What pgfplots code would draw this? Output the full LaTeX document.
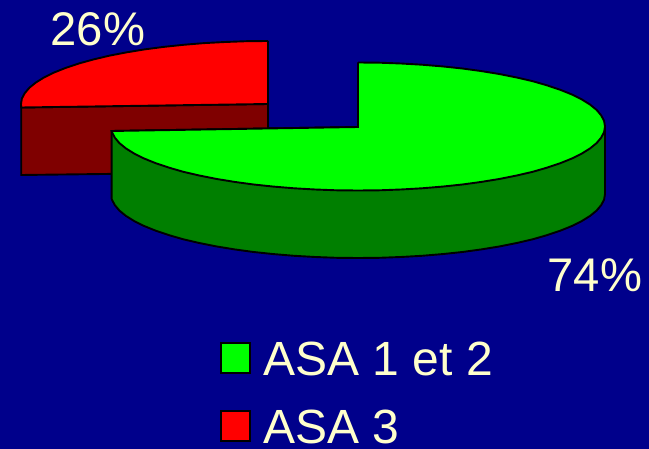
\documentclass[border=0pt]{standalone}
\usepackage{pgfplots}
\pgfplotsset{compat=1.18}
\usepackage{fontspec}
\setmainfont{Liberation Sans}
\definecolor{navybg}{RGB}{0,0,139}
\definecolor{cream}{RGB}{255,255,204}
\definecolor{redtop}{RGB}{255,0,0}
\definecolor{redside}{RGB}{127,0,0}
\definecolor{greentop}{RGB}{0,255,0}
\definecolor{greenside}{RGB}{0,127,0}
\newcommand{\labelfont}{\fontsize{47.2}{47.2}\selectfont}
\newcommand{\legendfont}{\fontsize{48}{48}\selectfont}
\begin{document}
\begin{tikzpicture}[x=1pt,y=1pt]
\begin{axis}[
    at={(0pt,0pt)},
    anchor=south west,
    width=649pt,
    height=449pt,
    scale only axis,
    xmin=0, xmax=649,
    ymin=0, ymax=449,
    y dir=reverse,
    hide axis,
    legend image code/.code={\draw[#1,line width=2pt] (0pt,-15pt) rectangle (29pt,15pt);},
    legend style={
        at={(axis cs:219.5,341)}, anchor=north west,
        draw=none, fill=none, text=cream, inner sep=0pt, outer sep=0pt,
        font=\legendfont, cells={anchor=west},
        nodes={inner sep=0pt, outer sep=0pt, text height=34pt, text depth=0pt},
        row sep=34.5pt, column sep=13pt
    }
]
% background
\addplot[fill=navybg, draw=none, forget plot] coordinates {
    (0,0) (649,0) (649,449) (0,449) (0,0)
};

% red slice, side then top
\addplot[fill=redside, draw=black, line width=1.9pt, forget plot] coordinates {
    (21.2,107.5) (268,104) (268,172) (21.2,175) (21.2,107.5)
};
\addplot[fill=redtop, draw=black, line width=1.9pt, forget plot] coordinates {
    (268,41) (246.5,41.2) (225.1,42) (204.1,43.1) (183.5,44.8) (163.6,46.9)
    (144.5,49.4) (126.3,52.4) (109.2,55.7) (93.3,59.5) (78.8,63.5) (65.7,67.9)
    (54.1,72.5) (44.1,77.4) (35.9,82.5) (29.4,87.7) (24.8,93.1) (21.9,98.5)
    (21,104) (21.2,107.5) (268,104) (268,41)
};

% green slice, side then top
\addplot[fill=greenside, draw=black, line width=1.9pt, forget plot] coordinates {
    (605,126.5) (605,194) (604.1,199.6) (601.2,205.1) (596.6,210.6) (590.1,215.9)
    (581.9,221) (571.9,226) (560.3,230.7) (547.2,235.1) (532.7,239.3) (516.8,243)
    (499.7,246.4) (481.5,249.4) (462.4,252) (442.5,254.1) (421.9,255.8) (400.9,257)
    (379.5,257.8) (358,258) (336.5,257.8) (315.1,257) (294.1,255.8) (273.5,254.1)
    (253.6,252) (234.5,249.4) (216.3,246.4) (199.2,243) (183.3,239.3) (168.8,235.1)
    (155.7,230.7) (144.1,226) (134.1,221) (125.9,215.9) (119.4,210.6) (114.8,205.1)
    (111.9,199.6) (111.6,198.5) (111.6,131) (358,127) (605,126.5)
};
\addplot[fill=greentop, draw=black, line width=1.9pt] coordinates {
    (358,62.5) (379.5,62.7) (400.9,63.5) (421.9,64.7) (442.5,66.4) (462.4,68.5)
    (481.5,71.1) (499.7,74.1) (516.8,77.5) (532.7,81.2) (547.2,85.4) (560.3,89.8)
    (571.9,94.5) (581.9,99.5) (590.1,104.6) (596.6,109.9) (601.2,115.4) (604.1,120.9)
    (605,126.5) (604.1,132.1) (601.2,137.6) (596.6,143.1) (590.1,148.4) (581.9,153.5)
    (571.9,158.5) (560.3,163.2) (547.2,167.6) (532.7,171.8) (516.8,175.5) (499.7,178.9)
    (481.5,181.9) (462.4,184.5) (442.5,186.6) (421.9,188.3) (400.9,189.5) (379.5,190.3)
    (358,190.5) (336.5,190.3) (315.1,189.5) (294.1,188.3) (273.5,186.6) (253.6,184.5)
    (234.5,181.9) (216.3,178.9) (199.2,175.5) (183.3,171.8) (168.8,167.6) (155.7,163.2)
    (144.1,158.5) (134.1,153.5) (125.9,148.4) (119.4,143.1) (114.8,137.6) (111.9,132.1)
    (111.6,131) (358,127) (358,62.5)
};
\addlegendentry{ASA 1 et 2}
\addlegendimage{fill=redtop, draw=black}
\addlegendentry{ASA 3}

\node[anchor=base west, inner sep=0pt, text=cream, font=\labelfont] at (axis cs:50.5,45.5) {26\%};
\node[anchor=base west, inner sep=0pt, text=cream, font=\labelfont] at (axis cs:547.5,291.5) {74\%};
\end{axis}
\pgfresetboundingbox
\useasboundingbox (0pt,0pt) rectangle (649pt,449pt);
\end{tikzpicture}
\end{document}
